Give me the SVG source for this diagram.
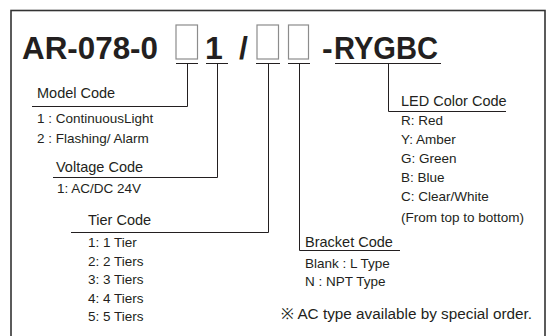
<svg xmlns="http://www.w3.org/2000/svg" width="548" height="336" viewBox="0 0 548 336">
<style>
text{font-family:"Liberation Sans",Arial,sans-serif;fill:#231f20}
.t{font-size:32px;font-weight:bold}
.h{font-size:14.5px}
.l{font-size:13.5px}
.n{font-size:15.3px}
.box{fill:none;stroke:#8c8c8c;stroke-width:1.2}
.ln{fill:none;stroke:#231f20;stroke-width:1}
</style>
<rect x="11" y="10.5" width="534" height="340" fill="#fff" stroke="#333" stroke-width="1.6"/>
<g id="title">
<text class="t" x="22" y="59" textLength="136" lengthAdjust="spacingAndGlyphs">AR-078-0</text>
<rect class="box" x="176" y="25" width="21.5" height="34"/>
<text class="t" x="205" y="59">1</text>
<text class="t" x="239" y="59">/</text>
<rect class="box" x="257" y="25" width="21.5" height="34"/>
<rect class="box" x="288.5" y="25" width="20" height="34"/>
<text class="t" x="322" y="59">-</text>
<text class="t" x="334" y="59" textLength="104" lengthAdjust="spacingAndGlyphs">RYGBC</text>
</g>
<g id="connectors">
<path class="ln" d="M176 63.5H198M206 63.5H228M256 63.5H280M288 63.5H310M335 63.5H441"/>
<path class="ln" d="M187.5 63.5V106.5H32"/>
<path class="ln" d="M217.5 63.5V177.5H53"/>
<path class="ln" d="M268.5 63.5V232.5H71"/>
<path class="ln" d="M299.5 63.5V250.5H400"/>
<path class="ln" d="M388.5 63.5V111.5H506"/>
</g>
<g id="model">
<text class="h" x="37" y="98">Model Code</text>
<text class="l" x="37" y="123">1 : ContinuousLight</text>
<text class="l" x="37" y="143">2 : Flashing/ Alarm</text>
</g>
<g id="voltage">
<text class="h" x="56" y="172">Voltage Code</text>
<text class="l" x="57" y="193">1: AC/DC 24V</text>
</g>
<g id="tier">
<text class="h" x="88" y="225">Tier Code</text>
<text class="l" x="88" y="247">1: 1 Tier</text>
<text class="l" x="88" y="265.5">2: 2 Tiers</text>
<text class="l" x="88" y="284">3: 3 Tiers</text>
<text class="l" x="88" y="302.5">4: 4 Tiers</text>
<text class="l" x="88" y="321">5: 5 Tiers</text>
</g>
<g id="bracket">
<text class="h" x="305" y="247">Bracket Code</text>
<text class="l" x="305" y="268">Blank : L Type</text>
<text class="l" x="305" y="286">N  : NPT Type</text>
</g>
<g id="led">
<text class="h" x="401" y="106">LED Color Code</text>
<text class="l" x="401" y="125">R: Red</text>
<text class="l" x="401" y="144">Y: Amber</text>
<text class="l" x="401" y="163">G: Green</text>
<text class="l" x="401" y="182">B: Blue</text>
<text class="l" x="401" y="201">C: Clear/White</text>
<text class="l" x="401" y="222">(From top to bottom)</text>
</g>
<g id="note">
<text class="n" x="281" y="319">※ AC type available by special order.</text>
</g>
</svg>
